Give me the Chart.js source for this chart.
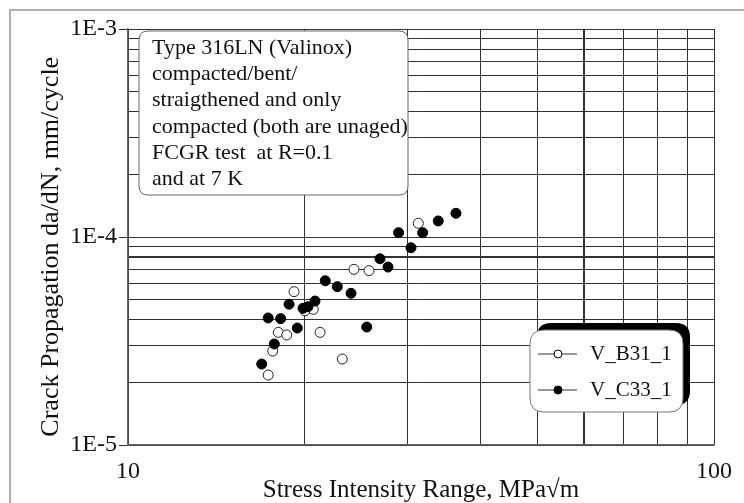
<!DOCTYPE html>
<html>
<head>
<meta charset="utf-8">
<script src="https://cdn.jsdelivr.net/npm/chart.js@4.4.1/dist/chart.umd.min.js"></script>
<style>
  body { margin: 0; background: #fff; }
  #wrap { width: 744px; height: 503px; }
</style>
</head>
<body>
<div id="wrap"><canvas id="crackChart" width="744" height="503"></canvas></div>
<script>
// V_B31_1 (open circles)
const b31X = [17.35, 17.66, 18.05, 18.66, 19.20, 20.05, 20.71, 21.27, 23.21, 24.30, 25.78, 31.29];
const b31Y = [2.17e-5, 2.83e-5, 3.48e-5, 3.38e-5, 5.46e-5, 4.42e-5, 4.49e-5, 3.48e-5, 2.59e-5, 6.99e-5, 6.89e-5, 1.164e-4];
// V_C33_1 (filled circles)
const c33X = [16.91, 17.35, 17.77, 18.22, 18.83, 19.45, 19.89, 20.28, 20.85, 21.71, 22.76, 24.02, 25.55, 26.92, 27.78, 28.96, 30.40, 31.83, 33.84, 36.28];
const c33Y = [2.45e-5, 4.08e-5, 3.06e-5, 4.05e-5, 4.75e-5, 3.65e-5, 4.54e-5, 4.62e-5, 4.92e-5, 6.16e-5, 5.77e-5, 5.36e-5, 3.69e-5, 7.86e-5, 7.17e-5, 1.049e-4, 8.88e-5, 1.049e-4, 1.194e-4, 1.300e-4];

const seriesNames = ['V_B31_1', 'V_C33_1'];

const xGrid = [10, 20, 30, 40, 50, 60, 70, 80, 90, 100];
const xMajor = [10, 100];
const xTickLabels = ['10', '100'];
const yGrid = [1e-5, 2e-5, 3e-5, 4e-5, 5e-5, 6e-5, 7e-5, 8e-5, 9e-5,
               1e-4, 2e-4, 3e-4, 4e-4, 5e-4, 6e-4, 7e-4, 8e-4, 9e-4, 1e-3];
const yMajor = [1e-5, 1e-4, 1e-3];
const yTickLabels = ['1E-5', '1E-4', '1E-3'];

const noteLines = [
  'Type 316LN (Valinox)',
  'compacted/bent/',
  'straigthened and only',
  'compacted (both are unaged)',
  'FCGR test  at R=0.1',
  'and at 7 K'
];

const serif = "'Liberation Serif', 'DejaVu Serif', serif";

function toPoints(xs, ys) {
  return xs.map((x, i) => ({ x: x, y: ys[i] }));
}

function roundRect(ctx, x, y, w, h, r) {
  ctx.beginPath();
  ctx.moveTo(x + r, y);
  ctx.lineTo(x + w - r, y);
  ctx.quadraticCurveTo(x + w, y, x + w, y + r);
  ctx.lineTo(x + w, y + h - r);
  ctx.quadraticCurveTo(x + w, y + h, x + w - r, y + h);
  ctx.lineTo(x + r, y + h);
  ctx.quadraticCurveTo(x, y + h, x, y + h - r);
  ctx.lineTo(x, y + r);
  ctx.quadraticCurveTo(x, y, x + r, y);
  ctx.closePath();
}

// outer frame, note box and legend box
const decorPlugin = {
  id: 'decor',
  beforeDraw(chart) {
    const ctx = chart.ctx;
    ctx.save();
    ctx.fillStyle = '#fff';
    ctx.fillRect(0, 0, chart.width, chart.height);
    ctx.strokeStyle = '#b0b0b0';
    ctx.lineWidth = 2;
    ctx.strokeRect(10, 10, 900, 900);
    ctx.restore();
  },
  afterDraw(chart) {
    const ctx = chart.ctx;
    const a = chart.chartArea;
    ctx.save();

    // note box
    roundRect(ctx, a.left + 11, a.top + 2, 269, 164, 9);
    ctx.fillStyle = '#fff';
    ctx.fill();
    ctx.strokeStyle = '#666';
    ctx.lineWidth = 1;
    ctx.stroke();
    ctx.fillStyle = '#111';
    ctx.font = '22px ' + serif;
    ctx.textBaseline = 'middle';
    ctx.textAlign = 'left';
    noteLines.forEach((t, i) => ctx.fillText(t, a.left + 24, a.top + 19 + i * 26.3));

    // legend box with heavy shadow on top/right
    const lx = 530, ly = 330, lw = 153, lh = 82;
    roundRect(ctx, lx + 7, ly - 7, lw, lh, 14);
    ctx.fillStyle = '#000';
    ctx.fill();
    roundRect(ctx, lx, ly, lw, lh, 14);
    ctx.fillStyle = '#fff';
    ctx.fill();
    ctx.strokeStyle = '#777';
    ctx.lineWidth = 1;
    ctx.stroke();

    const rows = [ly + 24, ly + 60];
    chart.data.datasets.forEach((ds, i) => {
      const y = rows[i];
      ctx.strokeStyle = '#333';
      ctx.lineWidth = 1;
      ctx.beginPath();
      ctx.moveTo(lx + 8, y);
      ctx.lineTo(lx + 47, y);
      ctx.stroke();
      ctx.beginPath();
      ctx.arc(lx + 28, y, 4, 0, Math.PI * 2);
      ctx.fillStyle = ds.backgroundColor;
      ctx.fill();
      ctx.strokeStyle = '#000';
      ctx.stroke();
      ctx.fillStyle = '#111';
      ctx.font = '21px ' + serif;
      ctx.textBaseline = 'middle';
      ctx.fillText(ds.label, lx + 60, y);
    });
    ctx.restore();
  }
};

const ctx = document.getElementById('crackChart').getContext('2d');
new Chart(ctx, {
  type: 'scatter',
  data: {
    datasets: [{
      label: seriesNames[0],
      data: toPoints(b31X, b31Y),
      backgroundColor: '#fff',
      borderColor: '#222',
      borderWidth: 1,
      pointRadius: 5,
      order: 2
    }, {
      label: seriesNames[1],
      data: toPoints(c33X, c33Y),
      backgroundColor: '#000',
      borderColor: '#000',
      borderWidth: 1,
      pointRadius: 5,
      order: 1
    }]
  },
  options: {
    responsive: false,
    animation: false,
    layout: { padding: { top: 29, right: 30, left: 0, bottom: 0 } },
    plugins: {
      legend: { display: false },
      tooltip: { enabled: false }
    },
    scales: {
      x: {
        type: 'logarithmic',
        min: 10,
        max: 100,
        afterBuildTicks: s => { s.ticks = xGrid.map(v => ({ value: v })); },
        afterFit: s => { s.height = 58; },
        grid: {
          color: '#333',
          lineWidth: c => (c.tick && c.tick.value === 60 ? 2 : 1),
          drawTicks: false
        },
        border: { color: '#666', width: 1.5 },
        ticks: {
          autoSkip: false,
          maxRotation: 0,
          padding: 12,
          color: '#111',
          font: { family: serif, size: 24 },
          callback: v => { const i = xMajor.indexOf(v); return i >= 0 ? xTickLabels[i] : ''; }
        },
        title: {
          display: true,
          text: 'Stress Intensity Range, MPa\u221Am',
          color: '#111',
          font: { family: serif, size: 25 },
          padding: { top: 0, bottom: -2 }
        }
      },
      y: {
        type: 'logarithmic',
        min: 1e-5,
        max: 1e-3,
        afterBuildTicks: s => { s.ticks = yGrid.map(v => ({ value: v })); },
        afterFit: s => { s.width = 128; },
        grid: {
          color: '#333',
          lineWidth: c => (c.tick && c.tick.value === 8e-5 ? 2 : 1),
          tickLength: 9,
          tickColor: c => (c.tick && yMajor.includes(c.tick.value) ? '#333' : 'rgba(0,0,0,0)')
        },
        border: { color: '#666', width: 1.5 },
        ticks: {
          autoSkip: false,
          padding: 2,
          color: '#111',
          font: { family: serif, size: 24 },
          callback: v => { const i = yMajor.indexOf(v); return i >= 0 ? yTickLabels[i] : ''; }
        },
        title: {
          display: true,
          text: 'Crack Propagation da/dN, mm/cycle   ',
          color: '#111',
          font: { family: serif, size: 26 },
          padding: { top: 36, bottom: 0 }
        }
      }
    }
  },
  plugins: [decorPlugin]
});
</script>
</body>
</html>
